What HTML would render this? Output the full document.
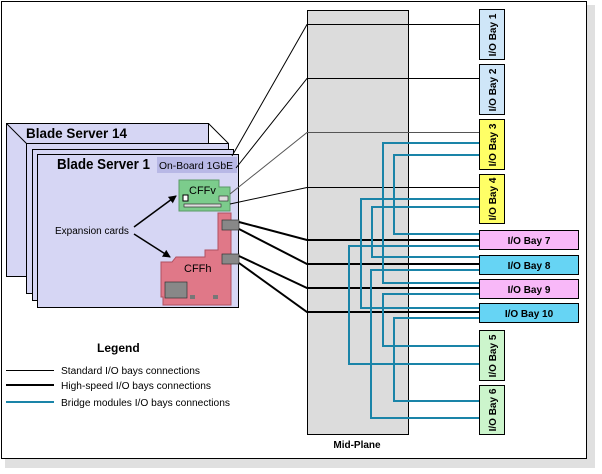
<!DOCTYPE html>
<html><head><style>
html,body{margin:0;padding:0;background:#fff;}
svg{display:block;font-family:"Liberation Sans",Arial,sans-serif;}
</style></head><body>
<svg width="602" height="474" viewBox="0 0 602 474" xmlns="http://www.w3.org/2000/svg">
<rect x="5" y="5" width="590" height="463" fill="#ccc" opacity="0.6"/>
<rect x="1.5" y="1.5" width="585" height="457" fill="#fff" stroke="#000" stroke-width="1"/>
<!-- Mid-plane -->
<rect x="307.5" y="10.5" width="101" height="424" fill="#dcdcdc" stroke="#000"/>
<text x="357" y="448" font-size="10" font-weight="bold" text-anchor="middle">Mid-Plane</text>
<!-- blade stack -->
<g stroke="#000" stroke-width="1" fill="#d6d6f4">
<rect x="6.5" y="123.5" width="202" height="153"/>
<line x1="6.5" y1="123.5" x2="26.5" y2="143.5"/>
<line x1="208.5" y1="123.5" x2="228.5" y2="143.5"/>
<rect x="26.5" y="143.5" width="202" height="150"/>
<rect x="32.5" y="149.5" width="201" height="151"/>
<rect x="37.5" y="154.5" width="201" height="153"/>
</g>
<text x="26" y="138" font-size="13.5" font-weight="bold" textLength="101" lengthAdjust="spacingAndGlyphs">Blade Server 14</text>
<text x="57" y="169" font-size="14.5" font-weight="bold" textLength="93" lengthAdjust="spacingAndGlyphs">Blade Server 1</text>
<rect x="157" y="157" width="80" height="16" fill="#b8b8e6"/>
<text x="159" y="169" font-size="10" textLength="74" lengthAdjust="spacingAndGlyphs">On-Board 1GbE</text>
<!-- CFFv -->
<path d="M179 180 H219 V187 H230 V211 H179 Z" fill="#7ccc8c" stroke="#5a9a66"/>
<text x="189" y="194" font-size="11">CFFv</text>
<rect x="183" y="195" width="5" height="6" fill="#fff" stroke="#000"/>
<rect x="219" y="196" width="9" height="5" fill="#ddd" stroke="#333" stroke-width="0.7"/>
<rect x="184" y="204" width="37" height="3" fill="#ddd" stroke="#333" stroke-width="0.7"/>
<!-- CFFh -->
<path d="M218 213 H231 V305 H163 V297 H161 V262 H172 L176 257 H205 V250 H218 Z" fill="#e07888" stroke="#b05060"/>
<text x="184" y="272" font-size="11">CFFh</text>
<rect x="165" y="282" width="22" height="16" fill="#888" stroke="#333" stroke-width="0.7"/>
<rect x="190" y="295" width="5" height="4" fill="#777"/>
<rect x="213" y="295" width="5" height="4" fill="#777"/>
<rect x="222" y="220" width="17" height="10" fill="#888" stroke="#333" stroke-width="0.7"/>
<rect x="222" y="254" width="17" height="10" fill="#888" stroke="#333" stroke-width="0.7"/>
<text x="55" y="234" font-size="10">Expansion cards</text>
<defs><marker id="ah" markerWidth="8" markerHeight="8" refX="7" refY="4" orient="auto" markerUnits="userSpaceOnUse"><path d="M0,0 L8,4 L0,8 Z" fill="#000"/></marker></defs>
<line x1="134" y1="227" x2="176" y2="196" stroke="#000" stroke-width="1.5" marker-end="url(#ah)"/>
<line x1="134" y1="234" x2="170" y2="257" stroke="#000" stroke-width="1.5" marker-end="url(#ah)"/>
<!-- standard lines -->
<g stroke="#000" stroke-width="1" fill="none">
<polyline points="232,156 307,24.5 479,24.5"/>
<polyline points="236,168 307,78.5 479,78.5"/>
<polyline points="230,194 307,132.5 479,132.5" stroke="#555"/>
<polyline points="230,204 307,187.5 479,187.5"/>
</g>
<g stroke="#000" stroke-width="2" fill="none">
<polyline points="239,222 307,240 479,240"/>
<polyline points="239,229 307,264 479,264"/>
<polyline points="239,256 307,288 479,288"/>
<polyline points="239,263 307,312 479,312"/>
</g>
<!-- bridge lines -->
<g stroke="#1a84a8" stroke-width="2" fill="none">
<polyline points="479,143 383,143 383,283 479,283"/>
<polyline points="479,155 394,155 394,234 479,234"/>
<polyline points="479,199 361,199 361,308 479,308"/>
<polyline points="479,207 372,207 372,257 479,257"/>
<polyline points="479,246 349,246 349,364 479,364"/>
<polyline points="479,270 371,270 371,418 479,418"/>
<polyline points="479,294 383,294 383,346 479,346"/>
<polyline points="479,318 394,318 394,401 479,401"/>
</g>
<!-- bays -->
<g stroke="#000" stroke-width="1">
<rect x="479.5" y="9.5" width="25" height="50" fill="#cfe6f8"/>
<rect x="479.5" y="64.5" width="25" height="50" fill="#cfe6f8"/>
<rect x="479.5" y="119.5" width="25" height="50" fill="#ffff66"/>
<rect x="479.5" y="174.5" width="25" height="49" fill="#ffff66"/>
<rect x="479.5" y="330.5" width="25" height="50" fill="#ccf5cc"/>
<rect x="479.5" y="385.5" width="25" height="49" fill="#ccf5cc"/>
<rect x="479.5" y="230.5" width="99" height="19" fill="#f8b8f8"/>
<rect x="479.5" y="255.5" width="99" height="19" fill="#66d4f4"/>
<rect x="479.5" y="279.5" width="99" height="19" fill="#f8b8f8"/>
<rect x="479.5" y="303.5" width="99" height="19" fill="#66d4f4"/>
</g>
<g font-size="10" font-weight="bold" text-anchor="middle">
<text transform="translate(496,35) rotate(-90)">I/O Bay 1</text>
<text transform="translate(496,90) rotate(-90)">I/O Bay 2</text>
<text transform="translate(496,145) rotate(-90)">I/O Bay 3</text>
<text transform="translate(496,199) rotate(-90)">I/O Bay 4</text>
<text transform="translate(496,356) rotate(-90)">I/O Bay 5</text>
<text transform="translate(496,410) rotate(-90)">I/O Bay 6</text>
<text x="529" y="244">I/O Bay 7</text>
<text x="529" y="269">I/O Bay 8</text>
<text x="529" y="293">I/O Bay 9</text>
<text x="529" y="317">I/O Bay 10</text>
</g>
<!-- legend -->
<text x="97" y="352" font-size="12" font-weight="bold">Legend</text>
<line x1="6" y1="370.5" x2="54" y2="370.5" stroke="#000" stroke-width="1"/>
<line x1="6" y1="385" x2="54" y2="385" stroke="#000" stroke-width="2"/>
<line x1="6" y1="402" x2="54" y2="402" stroke="#1a84a8" stroke-width="2"/>
<g font-size="10">
<text x="61" y="374" textLength="139" lengthAdjust="spacingAndGlyphs">Standard I/O bays connections</text>
<text x="61" y="389" textLength="150" lengthAdjust="spacingAndGlyphs">High-speed I/O bays connections</text>
<text x="61" y="406" textLength="169" lengthAdjust="spacingAndGlyphs">Bridge modules I/O bays connections</text>
</g>
</svg>
</body></html>
